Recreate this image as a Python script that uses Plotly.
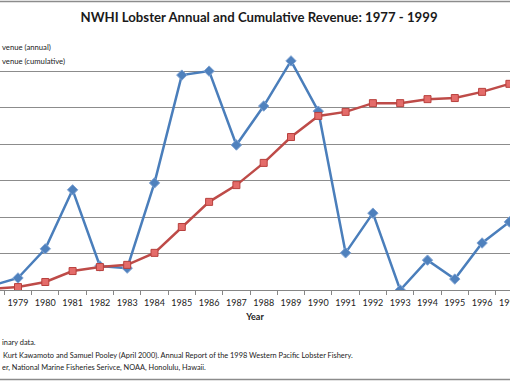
import plotly.graph_objects as go

years = list(range(1978, 1998))
# values in gridline units (y tick labels are cropped out of the reference)
annual = [0.11, 0.33, 1.13, 2.75, 0.66, 0.60, 2.94, 5.90, 6.01, 3.98,
          5.05, 6.29, 4.91, 1.02, 2.11, 0.00, 0.82, 0.30, 1.29, 1.87]
cumulative = [0.03, 0.08, 0.22, 0.52, 0.63, 0.69, 1.02, 1.73, 2.42, 2.88,
              3.49, 4.20, 4.78, 4.89, 5.13, 5.13, 5.24, 5.27, 5.44, 5.66]
tick_years = list(range(1979, 1998))
legend_texts = ["venue (annual)", "venue (cumulative)"]
footnotes = ["inary data.",
             "Kurt Kawamoto and Samuel Pooley (April 2000). Annual Report of the 1998 Western Pacific Lobster Fishery.",
             "er, National Marine Fisheries Serivce, NOAA, Honolulu, Hawaii."]

W, H = 510, 382
T, B = 35, 92
PH = H - T - B

def py(p):  # pixel y -> paper y
    return (H - B - p) / PH

def px(p):
    return p / W

FONT = "Lato"
STEP = 27.3

fig = go.Figure()
fig.add_trace(go.Scatter(
    x=years, y=annual, mode="lines+markers", name="Revenue (annual)",
    line=dict(color="#4A7EBB", width=2.5),
    marker=dict(symbol="diamond", size=8, color="#4F81BD",
                line=dict(color="#7FA3D3", width=1)),
    cliponaxis=True, showlegend=False))
fig.add_trace(go.Scatter(
    x=years, y=cumulative, mode="lines+markers", name="Revenue (cumulative)",
    line=dict(color="#BE4B48", width=2.5),
    marker=dict(symbol="square", size=7, color="#E46C6A",
                line=dict(color="#B8403D", width=1)),
    cliponaxis=True, showlegend=False))

fig.update_layout(
    width=W, height=H,
    margin=dict(l=0, r=0, t=T, b=B, autoexpand=False),
    paper_bgcolor="white", plot_bgcolor="white",
    font=dict(family=FONT, color="#222222", size=9),
    title=dict(text="<b>NWHI Lobster Annual and Cumulative Revenue: 1977 - 1999</b>",
               x=259 / W, xanchor="center", y=1 - 17 / H, yanchor="middle",
               font=dict(family=FONT, size=13.2, color="#1a1a1a")),
    xaxis=dict(range=[1979 - 18 / STEP, 1979 + (W - 18) / STEP],
               tickmode="array", tickvals=tick_years,
               ticktext=[str(y) for y in tick_years],
               ticks="outside", ticklen=4, tickcolor="rgba(0,0,0,0)",
               ticklabeloverflow="allow",
               tickfont=dict(size=9, family=FONT, color="#222222"),
               showgrid=False, showline=True, linecolor="#868686", linewidth=1,
               minor=dict(tick0=1978.5, dtick=1, ticks="outside", ticklen=4,
                          tickcolor="#868686", showgrid=False),
               title=dict(text="<b>Year</b>", font=dict(size=9, family=FONT), standoff=6),
               zeroline=False, automargin=False),
    yaxis=dict(range=[0, 7.001], dtick=1, showticklabels=False, showgrid=True,
               gridcolor="#8c8c8c", gridwidth=1, zeroline=False, showline=False,
               automargin=False),
)

# legend (cropped at the left edge in the reference)
for txt, yc in zip(legend_texts, (47, 61)):
    fig.add_annotation(text=txt, xref="paper", yref="paper",
                       x=px(0), y=py(yc), xanchor="left", yanchor="middle",
                       showarrow=False, font=dict(size=7.7, family=FONT, color="#222222"))

# footnotes (cropped at the left edge in the reference)
for txt, xl, yc in zip(footnotes, (0, 1, 0), (342, 355, 367)):
    fig.add_annotation(text=txt, xref="paper", yref="paper", x=px(xl), y=py(yc),
                       xanchor="left", yanchor="middle", showarrow=False,
                       font=dict(size=7.4, family=FONT, color="#222222"))

# chart border lines
for yy in (1.5, 379.5):
    fig.add_shape(type="line", xref="paper", yref="paper", x0=0, x1=1,
                  y0=py(yy), y1=py(yy), line=dict(color="#8c8c8c", width=1.5))

fig.write_html("out.html", config={"displayModeBar": False},
               post_script="document.body.style.margin='0';")
